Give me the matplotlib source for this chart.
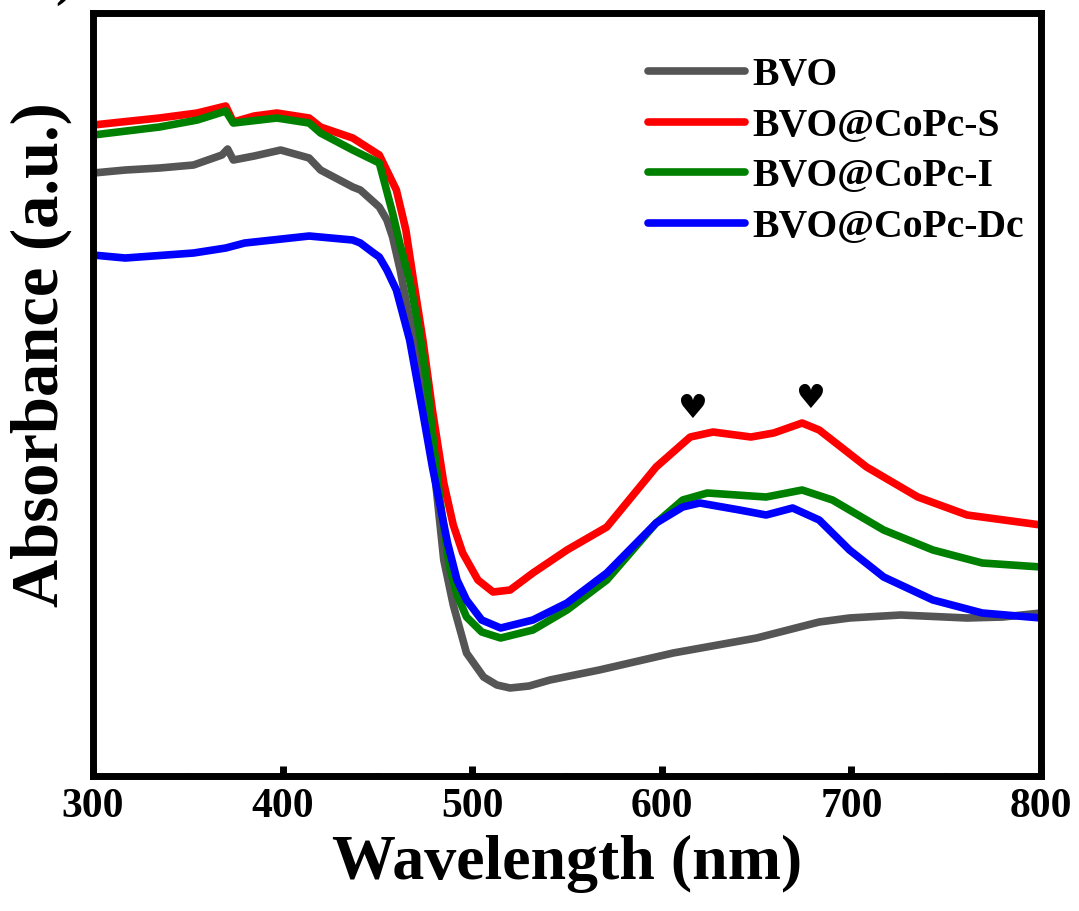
import matplotlib
matplotlib.use("Agg")
import matplotlib.pyplot as plt
from matplotlib.ticker import MultipleLocator

# absorbance (a.u.), wavelength in nm
bvo_wl = [300, 317, 335, 353, 368, 371, 374, 385, 399, 414, 420, 437, 441, 451, 455,
          458, 462, 465, 470, 475, 480, 485, 490, 497, 506, 513, 520, 530, 541, 567,
          606, 650, 683, 699, 726, 761, 780, 800]
bvo_abs = [6.03, 6.06, 6.08, 6.11, 6.21, 6.27, 6.16, 6.20, 6.26, 6.18, 6.06, 5.89, 5.86,
           5.69, 5.56, 5.39, 5.06, 4.76, 4.30, 3.76, 3.06, 2.16, 1.71, 1.23, 0.99, 0.91,
           0.88, 0.90, 0.96, 1.06, 1.23, 1.38, 1.54, 1.58, 1.61, 1.58, 1.59, 1.63]

s_wl = [300, 335, 355, 370, 374, 385, 397, 414, 420, 437, 451, 460, 465, 469, 474, 479,
        485, 490, 495, 503, 511, 520, 532, 550, 571, 597, 615, 627, 647, 659, 674, 683,
        708, 735, 761, 800]
s_abs = [6.51, 6.58, 6.63, 6.70, 6.54, 6.60, 6.63, 6.58, 6.49, 6.38, 6.21, 5.86, 5.46,
         4.96, 4.36, 3.66, 2.93, 2.51, 2.23, 1.96, 1.84, 1.86, 2.03, 2.26, 2.49, 3.09,
         3.39, 3.44, 3.39, 3.43, 3.53, 3.46, 3.09, 2.79, 2.61, 2.51]

i_wl = [300, 335, 355, 370, 374, 397, 414, 420, 437, 451, 458, 462, 467, 472, 476, 479,
        483, 488, 492, 497, 505, 515, 532, 550, 571, 597, 611, 624, 655, 674, 690, 717,
        743, 769, 800]
i_abs = [6.41, 6.49, 6.56, 6.65, 6.53, 6.58, 6.53, 6.43, 6.26, 6.13, 5.63, 5.31, 4.96,
         4.46, 3.96, 3.43, 2.76, 2.09, 1.81, 1.59, 1.44, 1.38, 1.46, 1.66, 1.96, 2.53,
         2.76, 2.83, 2.79, 2.86, 2.76, 2.46, 2.26, 2.13, 2.09]

dc_wl = [300, 317, 353, 370, 380, 414, 437, 441, 448, 451, 455, 460, 467, 474, 479, 487,
         492, 497, 505, 515, 532, 550, 571, 597, 611, 620, 641, 655, 669, 683, 699, 717,
         743, 769, 800]
dc_abs = [5.21, 5.18, 5.23, 5.28, 5.33, 5.40, 5.36, 5.33, 5.23, 5.19, 5.06, 4.86, 4.36,
          3.63, 3.09, 2.33, 1.96, 1.76, 1.56, 1.48, 1.56, 1.73, 2.03, 2.53, 2.69, 2.73,
          2.66, 2.61, 2.68, 2.56, 2.26, 1.99, 1.76, 1.63, 1.58]

labels = ["BVO", "BVO@CoPc-S", "BVO@CoPc-I", "BVO@CoPc-Dc"]
colors = ["#555555", "#ff0000", "#008000", "#0000ff"]

# peak markers
heart_wl = [616, 678]
heart_abs = [3.68, 3.78]

plt.rcParams["font.family"] = ["Liberation Serif", "DejaVu Serif"]
plt.rcParams["font.weight"] = "bold"

fig = plt.figure(figsize=(10.79, 9.11), dpi=100)
ax = fig.add_axes([0.0862, 0.1482, 0.8786, 0.8375])

series = [(bvo_wl, bvo_abs), (s_wl, s_abs), (i_wl, i_abs), (dc_wl, dc_abs)]
for (wl, ab), lab, col in zip(series, labels, colors):
    ax.plot(wl, ab, color=col, lw=5.5, label=lab, solid_capstyle="round",
            solid_joinstyle="round")

for hx, hy in zip(heart_wl, heart_abs):
    ax.text(hx, hy, "\u2665", ha="center", va="center", fontsize=24,
            family="DejaVu Sans", color="black")

ax.set_xlim(300, 800)
ax.set_ylim(0, 7.63)
ax.set_yticks([])
ax.xaxis.set_major_locator(MultipleLocator(100))
ax.xaxis.set_minor_locator(MultipleLocator(50))
ax.tick_params(axis="x", which="major", direction="in", length=7, width=5,
               labelsize=30, pad=9)
ax.tick_params(axis="x", which="minor", direction="in", length=2.5, width=4)
for sp in ax.spines.values():
    sp.set_linewidth(5)

ax.set_xlabel("Wavelength (nm)", fontsize=46, fontweight="bold", labelpad=6)
ax.set_ylabel("Absorbance (a.u.)", fontsize=48, fontweight="bold")
ax.yaxis.set_label_coords(-0.022, 0.552)

leg = ax.legend(loc="upper left", frameon=False, fontsize=28.5, handlelength=2.45,
                handletextpad=0.2, labelspacing=0.34, borderpad=0, borderaxespad=0,
                bbox_to_anchor=(0.585, 0.942))
for line in leg.get_lines():
    line.set_linewidth(5.5)

fig.text(75 / 1079, 1 + 20 / 911, "b)", ha="right", va="center", fontsize=40,
         fontweight="bold")

fig.savefig("out.png", dpi=100)
